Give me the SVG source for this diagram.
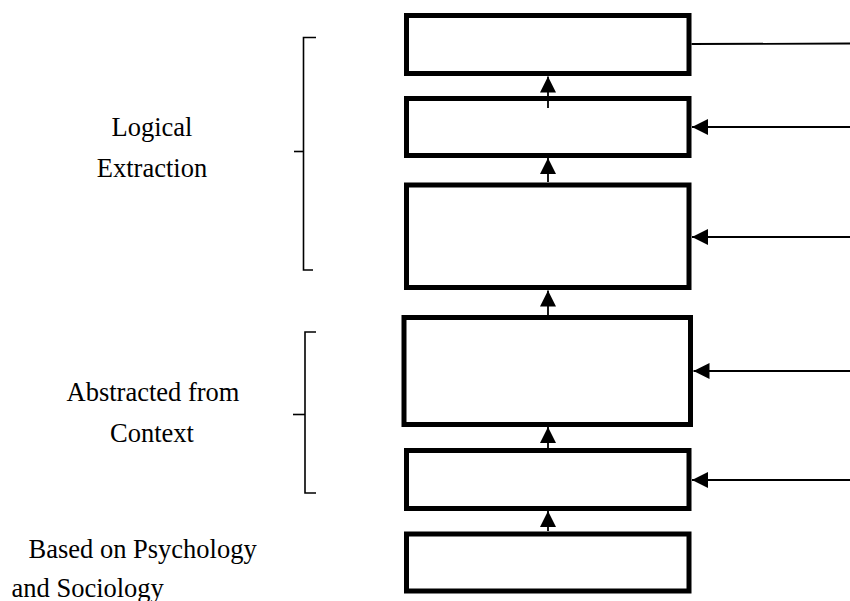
<svg xmlns="http://www.w3.org/2000/svg" width="850" height="601" viewBox="0 0 850 601">
  <style>
    .box { fill: #ffffff; stroke: #000000; stroke-width: 5; }
    .conn { fill: none; stroke: #000000; stroke-width: 1.8; }
    .br { fill: none; stroke: #000000; stroke-width: 1.6; }
    .lbl { font-family: "Liberation Serif", "Times New Roman", serif; font-size: 26.5px; fill: #000000; }
  </style>
  <defs>
    <marker id="arr" markerUnits="userSpaceOnUse" markerWidth="16" markerHeight="16" refX="15" refY="7.5" orient="auto" viewBox="0 0 15 15">
      <path d="M0,0 L15,7.5 L0,15 z" fill="#000000"/>
    </marker>
  </defs>
  <rect width="850" height="601" fill="#ffffff"/>

  <g id="node1"><rect class="box" x="406.5" y="15.5" width="282.5" height="58"/></g>
  <g id="node2"><rect class="box" x="406.5" y="98.5" width="282.5" height="57"/></g>
  <g id="node3"><rect class="box" x="406.5" y="185" width="282.5" height="102.5"/></g>
  <g id="node4"><rect class="box" x="404" y="317.5" width="286.5" height="107"/></g>
  <g id="node5"><rect class="box" x="406.5" y="450.5" width="282.5" height="58"/></g>
  <g id="node6"><rect class="box" x="406.5" y="534" width="282.5" height="57"/></g>

  <g id="connectors">
    <line class="conn" x1="548" y1="108" x2="548" y2="76.5" marker-end="url(#arr)"/>
    <line class="conn" x1="548" y1="182" x2="548" y2="158" marker-end="url(#arr)"/>
    <line class="conn" x1="548" y1="315" x2="548" y2="290.5" marker-end="url(#arr)"/>
    <line class="conn" x1="548" y1="448" x2="548" y2="427" marker-end="url(#arr)"/>
    <line class="conn" x1="548" y1="531" x2="548" y2="511" marker-end="url(#arr)"/>

    <line class="conn" x1="691.5" y1="44" x2="850" y2="43.5"/>
    <line class="conn" x1="850" y1="127" x2="692" y2="127" marker-end="url(#arr)"/>
    <line class="conn" x1="850" y1="237" x2="692" y2="237" marker-end="url(#arr)"/>
    <line class="conn" x1="850" y1="371" x2="693.5" y2="371" marker-end="url(#arr)"/>
    <line class="conn" x1="850" y1="480" x2="692" y2="480" marker-end="url(#arr)"/>
  </g>

  <g id="bracket-logical">
    <path class="br" d="M316,37.5 H303.5 V270 H313"/>
    <path class="br" d="M294,151.5 H303.5"/>
  </g>
  <g id="bracket-abstracted">
    <path class="br" d="M316,332 H305 V493 H316"/>
    <path class="br" d="M293,414.5 H305"/>
  </g>

  <g id="label-logical">
    <text class="lbl" x="152" y="135.5" text-anchor="middle">Logical</text>
    <text class="lbl" x="152" y="177" text-anchor="middle">Extraction</text>
  </g>
  <g id="label-abstracted">
    <text class="lbl" x="153" y="401" text-anchor="middle">Abstracted from</text>
    <text class="lbl" x="152" y="442" text-anchor="middle">Context</text>
  </g>
  <g id="label-based">
    <text class="lbl" x="28.5" y="557.5">Based on Psychology</text>
    <text class="lbl" x="11.5" y="596.5">and Sociology</text>
  </g>
</svg>
